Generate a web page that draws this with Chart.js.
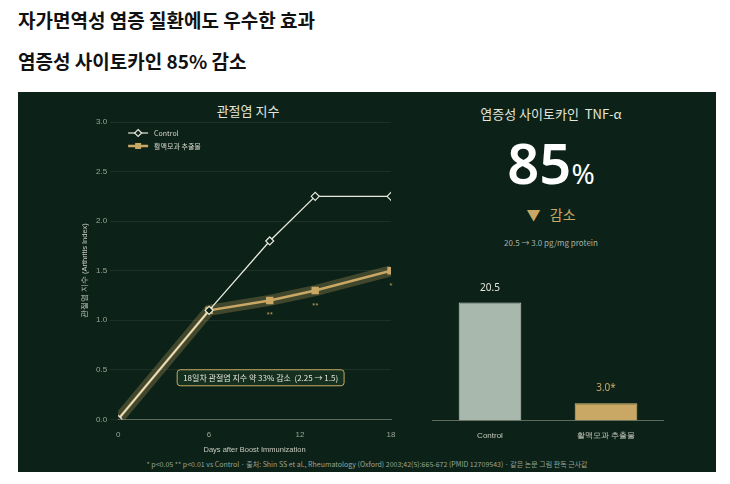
<!DOCTYPE html>
<html><head><meta charset="utf-8">
<script src="https://cdn.jsdelivr.net/npm/chart.js@4/dist/chart.umd.min.js"></script>
<style>
  body { margin:0; width:730px; height:484px; background:#fff; font-family:"Noto Sans CJK KR","Noto Sans",sans-serif; position:relative; overflow:hidden; }
  .h { position:absolute; left:18px; font-size:19px; font-weight:700; color:#111; margin:0; }
  #panel { position:absolute; left:18px; top:92px; width:698px; height:380px; background:#0c2218; }
  .t { position:absolute; color:#e6e6dc; text-align:center; }
  #left { position:absolute; left:58px; top:0; width:350px; height:366px; }
  #right { position:absolute; left:414px; top:156px; width:232px; height:196px; }
</style></head>
<body>
<p class="h" style="top:6px">자가면역성 염증 질환에도 우수한 효과</p>
<p class="h" style="top:47px">염증성 사이토카인 85% 감소</p>
<div id="panel">
  <div class="t" style="left:60px;width:340px;top:9px;font-size:13px">관절염 지수</div>
  <div id="left"><canvas id="c1"></canvas></div>
  <div class="t" style="left:408px;width:250px;top:12px;font-size:13px">염증성 사이토카인&nbsp; TNF-α</div>
  <div class="t" style="left:408px;width:250px;top:32px;font-size:56px;font-weight:600;color:#fff;font-family:'Noto Sans',sans-serif">85<span style="font-size:28px;font-weight:400">%</span></div>
  <div class="t" style="left:408px;width:250px;top:112px;font-size:14px;color:#c9a865">▼&nbsp;&nbsp; 감소</div>
  <div class="t" style="left:408px;width:250px;top:145px;font-size:8px;color:#a9b0a6">20.5 → 3.0 pg/mg protein</div>
  <div id="right"><canvas id="c2"></canvas></div>
  <div class="t" style="left:0;width:698px;top:367px;font-size:7px;color:#9aa296">* p&lt;0.05 ** p&lt;0.01 vs Control · 출처: Shin SS et al., Rheumatology (Oxford) 2003;42(5):665-672 (PMID 12709543) · 같은 논문 그림 판독 근사값</div>
</div>
<script>
const days = [0, 6, 10, 13, 18];
const controlIdx = [0, 1.1, 1.8, 2.25, 2.25];
const extractIdx = [0, 1.1, 1.2, 1.3, 1.5];
const extractSig = ["", "", "**", "**", "*"];
const barLabels = ["Control", "활맥모과 추출물"];
const tnfValues = [20.5, 3.0];
const tnfText = ["20.5", "3.0*"];

const GOLD = "#c9a865", GRID = "rgba(255,255,255,0.07)", TICK = "#9aa596";
const pts = a => days.map((d, i) => ({ x: d, y: a[i] }));

const notes = {
  id: "notes",
  afterDatasetsDraw(chart) {
    const { ctx, scales: { x, y } } = chart;
    ctx.save();
    ctx.font = "6px 'Noto Sans'"; ctx.fillStyle = GOLD; ctx.textAlign = "center";
    days.forEach((d, i) => { if (extractSig[i]) ctx.fillText(extractSig[i], x.getPixelForValue(d), y.getPixelForValue(extractIdx[i]) + 16); });
    const cx = x.getPixelForValue(9.4), cy = y.getPixelForValue(0.42);
    ctx.font = "8px 'Noto Sans CJK KR'";
    const txt = "18일차 관절염 지수 약 33% 감소  (2.25 → 1.5)";
    const w = ctx.measureText(txt).width + 12;
    ctx.fillStyle = "#15301f"; ctx.strokeStyle = GOLD; ctx.lineWidth = 1;
    ctx.beginPath(); ctx.roundRect(cx - w / 2, cy - 8, w, 16, 3); ctx.fill(); ctx.stroke();
    ctx.fillStyle = "#e6e6dc"; ctx.textBaseline = "middle"; ctx.fillText(txt, cx, cy);
    ctx.restore();
  }
};

new Chart(document.getElementById("c1"), {
  type: "line",
  data: { datasets: [
    { label: "Control", data: pts(controlIdx), borderColor: "#e8e8dc", borderWidth: 1.3, pointStyle: "rectRot", pointRadius: 4, pointBackgroundColor: "#0c2218", pointBorderColor: "#e8e8dc", pointBorderWidth: 1.2 },
    { label: "활맥모과 추출물", data: pts(extractIdx), borderColor: GOLD, borderWidth: 2.5, pointStyle: "rect", pointRadius: 3.5, pointBackgroundColor: GOLD, pointBorderColor: GOLD },
    { label: "glow", data: pts(extractIdx), borderColor: "rgba(201,168,101,0.28)", borderWidth: 11, pointRadius: 0 },
  ]},
  options: {
    animation: false, responsive: true, maintainAspectRatio: false,
    layout: { padding: { top: 30, right: 35, bottom: 2 } },
    plugins: { legend: { display: false }, tooltip: { enabled: false } },
    scales: {
      x: { type: "linear", min: 0, max: 18, afterBuildTicks: a => { a.ticks = [0, 6, 12, 18].map(v => ({ value: v })); },
        grid: { display: false }, border: { color: "#5d6b5c" },
        ticks: { color: TICK, font: { size: 8 } },
        title: { display: true, text: "Days after Boost Immunization", color: "#c8cabe", font: { size: 7.5 }, padding: 2 } },
      y: { min: 0, max: 3, ticks: { stepSize: 0.5, color: TICK, font: { size: 8 }, callback: v => v.toFixed(1) },
        grid: { color: GRID }, border: { display: false },
        title: { display: true, text: "관절염 지수 (Arthritis Index)", color: "#c8cabe", font: { size: 7.5 }, padding: 4 } },
    },
  },
  plugins: [notes, {
    id: "leg",
    afterDraw(chart) {
      const { ctx, chartArea: a } = chart;
      ctx.save(); ctx.font = "7px 'Noto Sans CJK KR'"; ctx.textBaseline = "middle";
      const x0 = a.left + 10;
      [[a.top + 11, "#e8e8dc", "Control", 1.2], [a.top + 24, GOLD, "활맥모과 추출물", 2.5]].forEach(([yy, c, t, lw], i) => {
        ctx.strokeStyle = c; ctx.lineWidth = lw; ctx.beginPath(); ctx.moveTo(x0, yy); ctx.lineTo(x0 + 20, yy); ctx.stroke();
        if (i === 0) { ctx.fillStyle = "#0c2218"; ctx.lineWidth = 1.2; ctx.beginPath(); ctx.moveTo(x0 + 10, yy - 3.5); ctx.lineTo(x0 + 13.5, yy); ctx.lineTo(x0 + 10, yy + 3.5); ctx.lineTo(x0 + 6.5, yy); ctx.closePath(); ctx.fill(); ctx.stroke(); }
        else { ctx.fillStyle = GOLD; ctx.fillRect(x0 + 7, yy - 3, 6, 6); }
        ctx.fillStyle = "#d8d8cc"; ctx.fillText(t, x0 + 26, yy);
      });
      ctx.restore();
    }
  }],
});

new Chart(document.getElementById("c2"), {
  type: "bar",
  data: { labels: barLabels, datasets: [{ data: tnfValues, backgroundColor: ["#a9b8ac", GOLD], borderColor: ["#c2cec4", "#d9ba78"], borderWidth: 1, barPercentage: 0.54, categoryPercentage: 1 }] },
  options: {
    animation: false, responsive: true, maintainAspectRatio: false,
    plugins: { legend: { display: false }, tooltip: { enabled: false } },
    scales: {
      x: { grid: { display: false }, border: { color: "#5d6b5c" }, ticks: { color: "#c8cabe", font: { size: 8 } } },
      y: { display: false, min: 0, max: 30 },
    },
  },
  plugins: [{
    id: "vals",
    afterDatasetsDraw(chart) {
      const { ctx } = chart; const m = chart.getDatasetMeta(0);
      ctx.save(); ctx.font = "10px 'Noto Sans'"; ctx.textAlign = "center";
      m.data.forEach((b, i) => { ctx.fillStyle = i ? GOLD : "#e6e6dc"; ctx.fillText(tnfText[i], b.x, b.y - 12); });
      ctx.restore();
    }
  }],
});
</script>
</body></html>
